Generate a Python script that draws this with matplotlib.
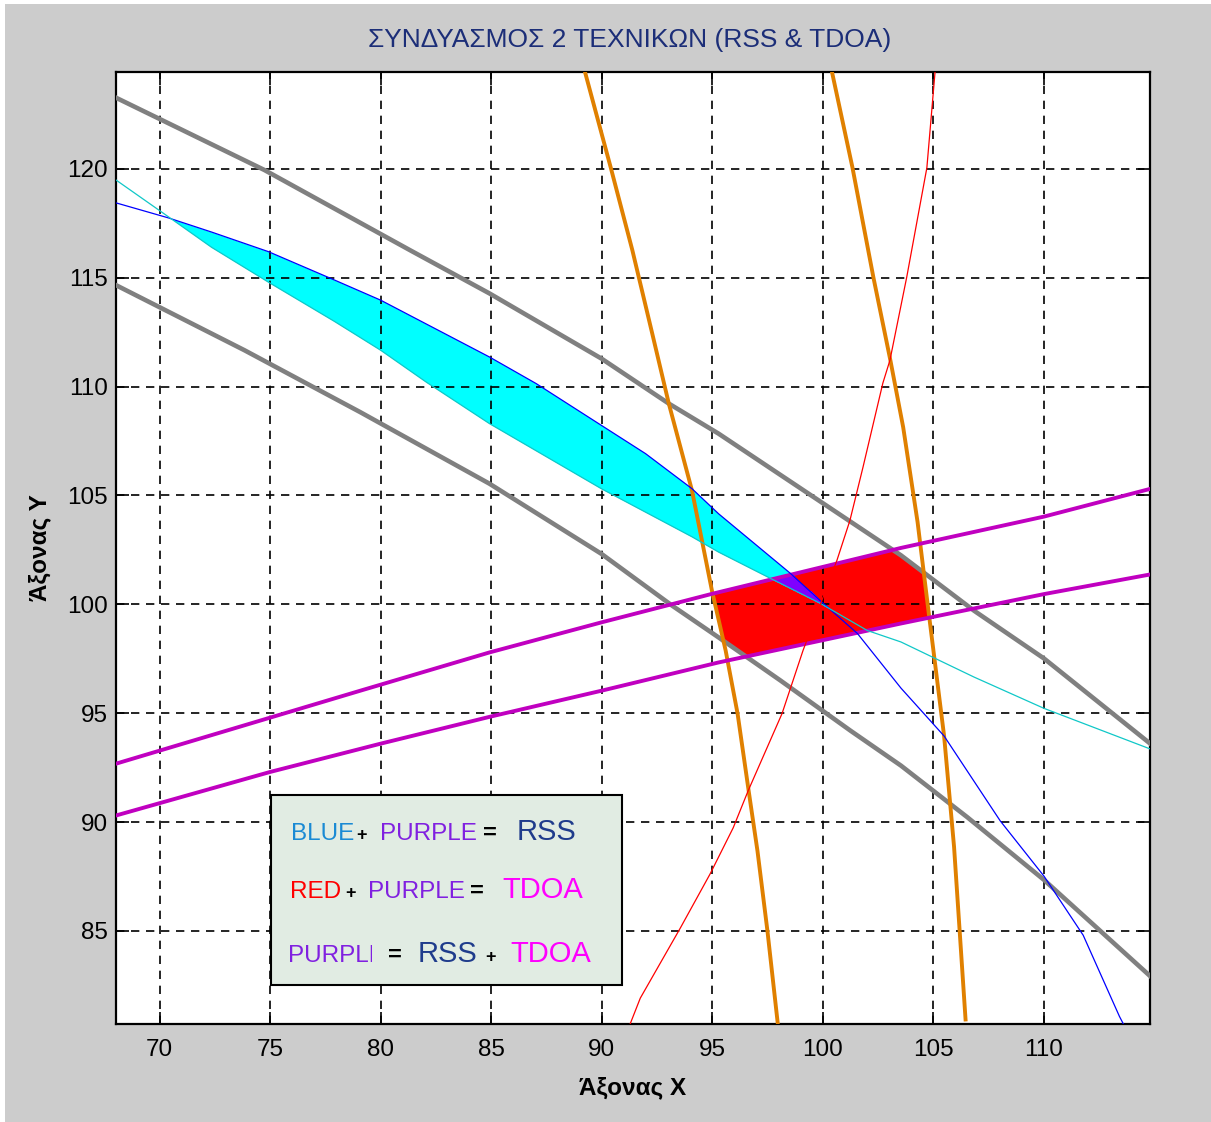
import numpy as np
import matplotlib.pyplot as plt
from matplotlib.patches import Rectangle
from matplotlib.transforms import Bbox, TransformedBbox

# ------------------------------------------------
# curves (x, y)

gray_hi_x = [68.03, 74.74, 81.32, 84.92, 89.98, 93.03, 95.28, 103.53, 106.83, 110.0, 114.79]
gray_hi_y = [123.27, 119.95, 116.27, 114.28, 111.29, 109.22, 107.84, 102.25, 99.71, 97.51, 93.61]

gray_lo_x = [68.03, 73.84, 79.07, 84.92, 89.98, 93.18, 95.28, 98.08, 101.24, 103.53, 106.53, 110.0, 114.79]
gray_lo_y = [114.66, 111.67, 108.83, 105.54, 102.32, 99.94, 98.48, 96.5, 94.2, 92.59, 90.22, 87.34, 82.93]

blue_x = [68.03, 70.4, 72.35, 74.92, 77.9, 80.0, 84.92, 87.03, 89.98, 91.98, 94.08, 95.28,
          98.53, 100.02, 101.56, 103.53, 105.48, 108.02, 110.0, 111.77, 113.41, 113.65]
blue_y = [118.44, 117.75, 117.1, 116.2, 114.9, 113.97, 111.36, 110.14, 108.22, 106.92, 105.31, 104.16,
          101.42, 100.04, 98.66, 96.15, 93.95, 90.05, 87.51, 84.8, 81.07, 80.6]

cyan_x = [68.03, 70.4, 72.35, 74.92, 77.9, 80.0, 82.07, 84.92, 89.98, 94.08, 95.28, 97.63,
          99.89, 102.0, 103.53, 106.83, 110.0, 114.79]
cyan_y = [119.49, 117.8, 116.4, 114.8, 113.0, 111.67, 110.2, 108.3, 105.31, 103.1, 102.4, 101.19,
          100.04, 98.8, 98.27, 96.66, 95.22, 93.36]

red_x = [91.28, 91.74, 93.55, 94.9, 95.94, 96.62, 98.15, 99.1, 100.63, 101.22, 101.81,
         102.71, 103.03, 103.79, 104.7, 105.07]
red_y = [80.72, 81.91, 85.13, 87.62, 89.73, 91.44, 94.98, 97.88, 102.01, 103.85, 106.29,
         110.16, 111.21, 115.03, 120.05, 124.45]

# orange curves are steep, stored top to bottom
orange_l_x = [89.24, 90.42, 91.38, 92.28, 93.03, 94.08, 94.98, 95.6, 96.14, 96.64, 97.04, 97.49, 97.96]
orange_l_y = [124.45, 120.0, 116.27, 112.44, 109.22, 105.22, 100.63, 97.88, 94.98, 91.44, 88.67, 85.0, 80.72]
orange_r_x = [100.41, 101.33, 102.28, 103.05, 103.63, 104.28, 104.73, 105.48, 105.93, 106.45]
orange_r_y = [124.45, 120.09, 115.03, 111.21, 108.13, 103.78, 100.05, 93.95, 88.86, 80.93]

purple_hi_x = [68.03, 79.07, 84.92, 89.98, 94.98, 103.53, 110.0, 114.79]
purple_hi_y = [92.68, 96.03, 97.79, 99.17, 100.48, 102.59, 104.03, 105.3]
purple_lo_x = [68.03, 75.0, 80.0, 85.0, 89.98, 95.28, 103.53, 110.0, 114.79]
purple_lo_y = [90.3, 92.3, 93.6, 94.85, 96.03, 97.33, 99.12, 100.47, 101.37]

x_ticks = [70, 75, 80, 85, 90, 95, 100, 105, 110]
y_ticks = [85, 90, 95, 100, 105, 110, 115, 120]
x_lim = (68.03, 114.79)
y_lim = (80.72, 124.45)

FONT = ["Liberation Sans Narrow", "Liberation Sans", "DejaVu Sans"]

fig = plt.figure(figsize=(12.11, 11.22), dpi=100, facecolor="white")
fig.patches.append(Rectangle((0.004, 0), 0.996, 0.996, transform=fig.transFigure,
                             facecolor="#cccccc", edgecolor="none", zorder=-10))
ax = fig.add_axes([0.0958, 0.0873, 0.8538, 0.8485])
ax.set_facecolor("white")

# ---- filled regions (from the curves above) ----
gx = np.linspace(x_lim[0], x_lim[1], 1400)
gy = np.linspace(y_lim[0], y_lim[1], 1400)
X, Y = np.meshgrid(gx, gy)

def fx(xp, yp, v):
    return np.interp(v, xp, yp)

def fy(xp, yp, v):
    # curve given top->bottom, x as function of y
    return np.interp(v, yp[::-1], xp[::-1])

in_purple = (Y < fx(purple_hi_x, purple_hi_y, X)) & (Y > fx(purple_lo_x, purple_lo_y, X))
in_gray = (Y < fx(gray_hi_x, gray_hi_y, X)) & (Y > fx(gray_lo_x, gray_lo_y, X))
in_orange = (X > fy(orange_l_x, orange_l_y, Y)) & (X < fy(orange_r_x, orange_r_y, Y))
in_cyan = (Y < fx(blue_x, blue_y, X)) & (Y > fx(cyan_x, cyan_y, X)) & (X > 70) & (X < 100.5)

xx = np.linspace(x_lim[0], x_lim[1], 2000)
b = np.interp(xx, blue_x, blue_y)
c = np.interp(xx, cyan_x, cyan_y)
ax.fill_between(xx, c, b, where=(b > c) & (xx > 70) & (xx < 100.5),
                color="#00ffff", linewidth=0, zorder=1)

red_mask = (in_purple & in_gray & in_orange).astype(float)
ax.contourf(X, Y, red_mask, levels=[0.5, 1.5], colors=["#ff0000"], zorder=1.2)
violet_mask = (in_purple & in_cyan).astype(float)
ax.contourf(X, Y, violet_mask, levels=[0.5, 1.5], colors=["#7f00ff"], zorder=1.4)

# ---- curves ----
ax.plot(gray_hi_x, gray_hi_y, color="#808080", lw=3.3, zorder=3)
ax.plot(gray_lo_x, gray_lo_y, color="#808080", lw=3.3, zorder=3)
ax.plot(orange_l_x, orange_l_y, color="#e08000", lw=2.8, zorder=3)
ax.plot(orange_r_x, orange_r_y, color="#e08000", lw=2.8, zorder=3)
ax.plot(purple_hi_x, purple_hi_y, color="#c000c0", lw=2.8, zorder=3)
ax.plot(purple_lo_x, purple_lo_y, color="#c000c0", lw=2.8, zorder=3)
ax.plot(blue_x, blue_y, color="#0000ff", lw=0.9, zorder=3.2)
ax.plot(cyan_x, cyan_y, color="#10c8c8", lw=0.9, zorder=3.2)
ax.plot(red_x, red_y, color="#ff0000", lw=0.9, zorder=3.2)

ax.set_xlim(*x_lim)
ax.set_ylim(*y_lim)
ax.set_xticks(x_ticks)
ax.set_yticks(y_ticks)
ax.grid(True, color="black", linestyle=(0, (5, 4)), linewidth=1.2)
ax.set_axisbelow(False)
ax.tick_params(direction="in", length=9, width=1.2, top=True, right=True, colors="black")
ax.tick_params(axis="x", pad=11)
ax.tick_params(axis="y", pad=6)
for lab in ax.get_xticklabels():
    lab.set_fontfamily(FONT)
    lab.set_fontsize(17.5)
for lab in ax.get_yticklabels():
    lab.set_fontfamily(FONT)
    lab.set_fontsize(17.5)
for s in ax.spines.values():
    s.set_linewidth(1.6)

ax.set_xlabel("Άξονας Χ", family=FONT, fontsize=17.5, fontweight="bold")
ax.set_ylabel("Άξονας Υ", family=FONT, fontsize=17.5, fontweight="bold")
ax.xaxis.set_label_coords(0.5, -0.067)
ax.xaxis.label.set_va("center")
ax.yaxis.set_label_coords(-0.0735, 0.5)
ax.yaxis.label.set_va("center")
fig.text(0.520, 0.9643, "ΣΥΝΔΥΑΣΜΟΣ 2 ΤΕΧΝΙΚΩΝ (RSS & TDOA)", family=FONT, fontsize=19,
         color="#1c2e78", ha="center", va="center")

# ---- text box ----
ax.add_patch(Rectangle((75.05, 82.51), 90.92 - 75.05, 91.24 - 82.51, facecolor="#e1ece3",
                       edgecolor="black", lw=1.5, zorder=5))

C_BLUE = "#1a8ad4"
C_PURP = "#8020e0"
C_RSS = "#1f3c8c"
C_TDOA = "#ff00ff"

def word(x, y, s, color, size=17.5, ha="left", weight="normal"):
    return ax.text(x, y, s, color=color, family=FONT, fontsize=size, ha=ha,
                   va="baseline", zorder=6, fontweight=weight)

r1, r2, r3 = 89.17, 86.5, 83.56
word(75.94, r1, "BLUE", C_BLUE)
word(79.15, r1, "+", "black", size=13, ha="center", weight="bold")
word(79.97, r1, "PURPLE", C_PURP)
word(84.95, r1, "=", "black", size=17, ha="center", weight="bold")
word(86.16, r1, "RSS", C_RSS, size=21)

word(75.9, r2, "RED", "#ff0000")
word(78.62, r2, "+", "black", size=13, ha="center", weight="bold")
word(79.43, r2, "PURPLE", C_PURP)
word(84.36, r2, "=", "black", size=17, ha="center", weight="bold")
word(85.49, r2, "TDOA", C_TDOA, size=21)

# third row: PURPLE is cut off in the original
cut = word(75.81, r3, "PURPLE", C_PURP)
cut.set_clip_box(TransformedBbox(Bbox([[75.5, 82.6], [79.6, 86.0]]), ax.transData))
cut.set_clip_on(True)
word(80.65, r3, "=", "black", size=17, ha="center", weight="bold")
word(81.69, r3, "RSS", C_RSS, size=21)
word(84.95, r3, "+", "black", size=13, ha="center", weight="bold")
word(85.85, r3, "TDOA", C_TDOA, size=21)

fig.savefig("out.png", dpi=100, facecolor=fig.get_facecolor())
